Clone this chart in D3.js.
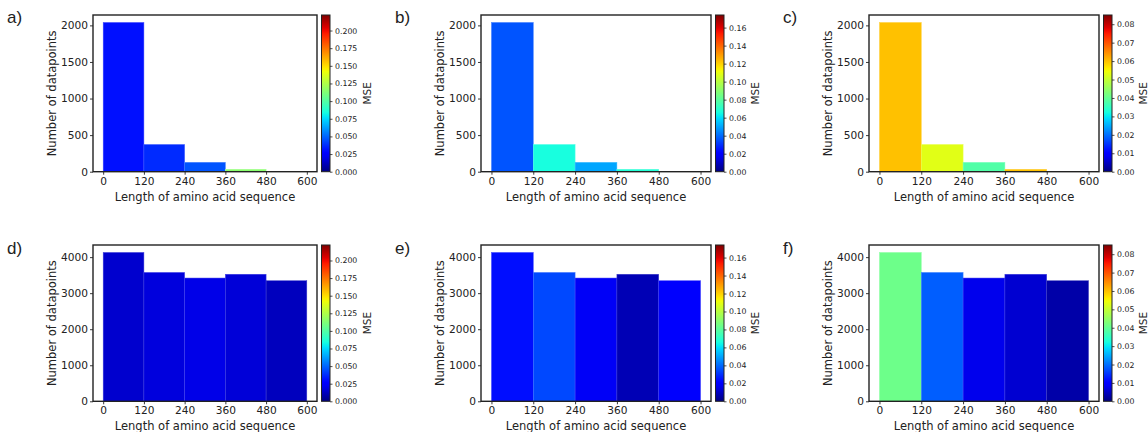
<!DOCTYPE html>
<html lang="en">
<head>
<meta charset="UTF-8">
<script src="https://d3js.org/d3.v7.min.js"></script>
<title>MSE by sequence length</title>
<style>
	body { margin: 0; background: #fff; }
	svg { display: block; }
	text { font-family: "DejaVu Sans", sans-serif; fill: #222; }
	.letter { font-family: "Liberation Sans", Arial, sans-serif; font-size: 17px; }
</style>
</head>
<body>
<svg width="1148" height="432"></svg>
<script>
	// histogram bins (length of amino acid sequence)
	var binEdges = [0, 120, 240, 360, 480, 600];
	var xTicks = [0, 120, 240, 360, 480, 600];

	// counts per bin, top row (a-c) and bottom row (d-f)
	var countsTop = [2040, 372, 128, 33, 5];
	var countsBottom = [4130, 3575, 3420, 3525, 3345];
	var yTicksTop = [0, 500, 1000, 1500, 2000];
	var yTicksBottom = [0, 1000, 2000, 3000, 4000];

	// MSE per bin, one array per panel
	var mseA = [0.031, 0.037, 0.046, 0.115, 0.222];
	var mseB = [0.036, 0.066, 0.050, 0.068, 0.174];
	var mseC = [0.060, 0.053, 0.038, 0.060, 0.085];
	var mseD = [0.015, 0.018, 0.020, 0.017, 0.012];
	var mseE = [0.024, 0.034, 0.018, 0.008, 0.019];
	var mseF = [0.041, 0.0185, 0.008, 0.006, 0.003];

	// colorbar ticks per column
	var cbTicks1 = [0, 0.025, 0.05, 0.075, 0.1, 0.125, 0.15, 0.175, 0.2];
	var cbTicks2 = [0, 0.02, 0.04, 0.06, 0.08, 0.1, 0.12, 0.14, 0.16];
	var cbTicks3 = [0, 0.01, 0.02, 0.03, 0.04, 0.05, 0.06, 0.07, 0.08];

	var letters = ["a)", "b)", "c)", "d)", "e)", "f)"];

	// matplotlib jet
	function seg(pts, t) {
		for (var i = 1; i < pts.length; i++) {
			if (t <= pts[i][0]) {
				var a = pts[i - 1], b = pts[i];
				return a[1] + (b[1] - a[1]) * (t - a[0]) / (b[0] - a[0]);
			}
		}
		return pts[pts.length - 1][1];
	}
	function jet(t) {
		t = Math.max(0, Math.min(1, t));
		var r = seg([[0, 0], [0.35, 0], [0.66, 1], [0.89, 1], [1, 0.5]], t);
		var g = seg([[0, 0], [0.125, 0], [0.375, 1], [0.64, 1], [0.91, 0], [1, 0]], t);
		var b = seg([[0, 0.5], [0.11, 1], [0.34, 1], [0.65, 0], [1, 0]], t);
		return d3.rgb(r * 255, g * 255, b * 255).formatHex();
	}

	var colX = [[93, 317], [481, 711], [869, 1099]];
	var rowY = [[15, 171.7], [245, 401.3]];
	var letterX = [7, 395, 783];
	var letterY = [23, 254];

	var columns = [
		{ top: mseA, bottom: mseD, ticks: cbTicks1, fmt: ".3f" },
		{ top: mseB, bottom: mseE, ticks: cbTicks2, fmt: ".2f" },
		{ top: mseC, bottom: mseF, ticks: cbTicks3, fmt: ".2f" }
	];

	var svg = d3.select("svg");
	var defs = svg.append("defs");
	var grad = defs.append("linearGradient").attr("id", "jetGrad")
		.attr("x1", 0).attr("y1", 1).attr("x2", 0).attr("y2", 0);
	d3.range(0, 1.0001, 0.02).forEach(function (t) {
		grad.append("stop").attr("offset", t).attr("stop-color", jet(t));
	});

	columns.forEach(function (col, ci) {
		var vmax = d3.max(col.top.concat(col.bottom));
		[0, 1].forEach(function (ri) {
			var counts = ri === 0 ? countsTop : countsBottom;
			var mse = ri === 0 ? col.top : col.bottom;
			var yTicks = ri === 0 ? yTicksTop : yTicksBottom;
			var x0 = colX[ci][0], x1 = colX[ci][1];
			var y0 = rowY[ri][0], y1 = rowY[ri][1];

			var x = d3.scaleLinear().domain([-30, 630]).range([x0, x1]);
			var y = d3.scaleLinear().domain([0, d3.max(counts) * 1.05]).range([y1, y0]);
			var c = d3.scaleLinear().domain([0, vmax]).range([0, 1]);

			var g = svg.append("g");
			var bins = counts.map(function (v, i) {
				return { x0: binEdges[i], x1: binEdges[i + 1], n: v, mse: mse[i] };
			});
			g.selectAll("rect.bar").data(bins).enter().append("rect")
				.attr("class", "bar")
				.attr("x", function (d) { return x(d.x0); })
				.attr("width", function (d) { return x(d.x1) - x(d.x0); })
				.attr("y", function (d) { return y(d.n); })
				.attr("height", function (d) { return y(0) - y(d.n); })
				.attr("fill", function (d) { return jet(c(d.mse)); })
				.attr("stroke", function (d) { return d3.interpolateRgb(jet(c(d.mse)), "#fff")(0.25); })
				.attr("stroke-width", 0.5);

			var xa = g.append("g").attr("transform", "translate(0," + y1 + ")")
				.call(d3.axisBottom(x).tickValues(xTicks).tickSize(3).tickPadding(2.5));
			var ya = g.append("g").attr("transform", "translate(" + x0 + ",0)")
				.call(d3.axisLeft(y).tickValues(yTicks).tickFormat(d3.format("d")).tickSize(3).tickPadding(2));
			[xa, ya].forEach(function (a) {
				a.select(".domain").remove();
				a.selectAll("line").attr("stroke", "#222").attr("stroke-width", 0.9);
				a.selectAll("text").style("font-size", "10.6px").attr("fill", "#222");
			});

			g.append("rect").attr("x", x0).attr("y", y0)
				.attr("width", x1 - x0).attr("height", y1 - y0)
				.attr("fill", "none").attr("stroke", "#222").attr("stroke-width", 1.4);

			g.append("text")
				.attr("x", (x0 + x1) / 2).attr("y", y1 + 29)
				.attr("text-anchor", "middle").style("font-size", "11.5px")
				.text("Length of amino acid sequence");
			g.append("text")
				.attr("transform", "translate(" + (x0 - 37) + "," + ((y0 + y1) / 2) + ") rotate(-90)")
				.attr("text-anchor", "middle").style("font-size", "11.5px")
				.text("Number of datapoints");

			g.append("text").attr("class", "letter")
				.attr("x", letterX[ci]).attr("y", letterY[ri])
				.text(letters[ri * 3 + ci]);

			// colorbar
			var cbx = x1 + 4.5, cbw = 8.5;
			var cy = d3.scaleLinear().domain([0, vmax]).range([y1, y0]);
			g.append("rect").attr("x", cbx).attr("y", y0)
				.attr("width", cbw).attr("height", y1 - y0)
				.attr("fill", "url(#jetGrad)").attr("stroke", "#222").attr("stroke-width", 1);
			var ca = g.append("g").attr("transform", "translate(" + (cbx + cbw) + ",0)")
				.call(d3.axisRight(cy).tickValues(col.ticks).tickFormat(d3.format(col.fmt)).tickSize(2.5).tickPadding(2.5));
			ca.select(".domain").remove();
			ca.selectAll("line").attr("stroke", "#222").attr("stroke-width", 0.8);
			ca.selectAll("text").style("font-size", "7.8px").attr("fill", "#222");
			var labelX = cbx + cbw + (ci === 0 ? 37 : 31);
			g.append("text")
				.attr("transform", "translate(" + labelX + "," + ((y0 + y1) / 2) + ") rotate(-90)")
				.attr("text-anchor", "middle").attr("dy", "0.35em").style("font-size", "10.5px")
				.text("MSE");
		});
	});
</script>
</body>
</html>
